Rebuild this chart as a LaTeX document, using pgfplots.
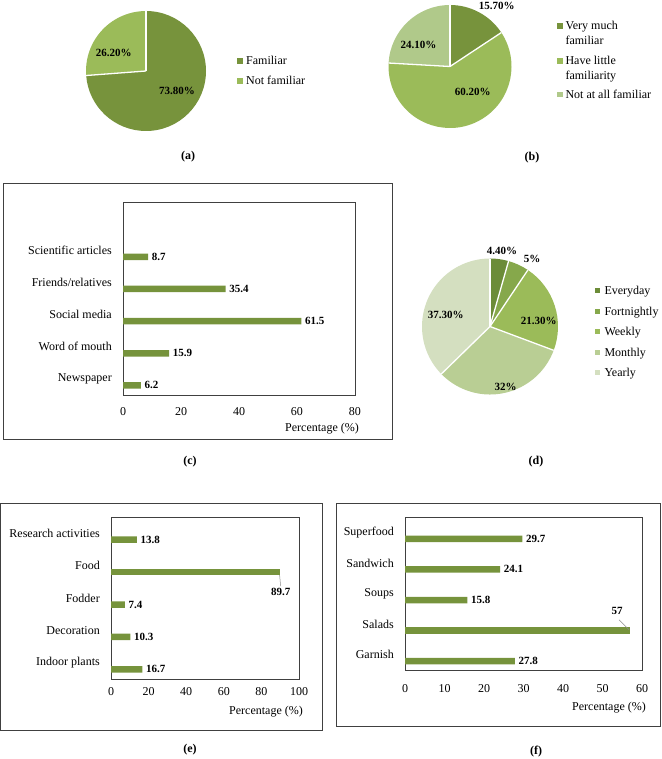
\documentclass[border=0pt]{standalone}
\usepackage{pgfplots}
\pgfplotsset{compat=1.18}
\usepackage{fontspec}
\setmainfont{Liberation Serif}

% palette
\definecolor{gA}{HTML}{77933C}
\definecolor{gB}{HTML}{9BBB59}
\definecolor{gC}{HTML}{B0C98A}
\definecolor{dA}{HTML}{6C8C38}
\definecolor{dB}{HTML}{86A84B}
\definecolor{dC}{HTML}{9BBB59}
\definecolor{dD}{HTML}{B9CE94}
\definecolor{dE}{HTML}{D4DFC0}
\definecolor{barc}{HTML}{76933C}
\definecolor{framec}{HTML}{404040}

\newcommand\ftxt{\fontsize{12}{14}\selectfont}
\newcommand\fval{\bfseries\fontsize{11}{13}\selectfont}

% pie drawn inside an axis: #1 radius, #2 list of value/colour, clockwise from 12 o'clock
\newcommand\drawpie[2]{%
  \gdef\piecum{0}%
  \foreach \v/\c in {#2}{%
    \pgfmathsetmacro\pa{90-3.6*\piecum}%
    \pgfmathsetmacro\pb{90-3.6*(\piecum+\v)}%
    \edef\piesector{\noexpand\fill[\c] (axis cs:0,0) -- ++(\pa:#1) arc[start angle=\pa, end angle=\pb, radius=#1] -- cycle;}%
    \piesector
    \pgfmathsetmacro\piesum{\piecum+\v}%
    \global\let\piecum\piesum
  }%
  \gdef\piecum{0}%
  \foreach \v/\c in {#2}{%
    \pgfmathsetmacro\pa{90-3.6*\piecum}%
    \edef\pieedge{\noexpand\draw[white, line width=1.3pt] (axis cs:0,0) -- ++(\pa:#1);}%
    \pieedge
    \pgfmathsetmacro\piesum{\piecum+\v}%
    \global\let\piecum\piesum
  }%
}

\pgfplotsset{
  pieaxis/.style={hide axis, scale only axis, clip=false,
    xmin=-1, xmax=1, ymin=-1, ymax=1, anchor=origin},
  baraxis/.style={scale only axis, anchor=south west,
    xbar, bar width=6.5pt, bar shift=-6.5pt,
    ymin=0.5, ytick={1,...,5},
    major tick length=0pt,
    axis line style={draw=framec, line width=0.8pt},
    tick label style={font=\ftxt},
    /pgf/number format/assume math mode=true,
    yticklabel style={xshift=-7.7pt},
    point meta=x},
  valuelabels/.style={nodes near coords,
    every node near coord/.style={anchor=west, xshift=3.5pt, yshift=-6.5pt, font=\fval, inner sep=0pt, text=black}},
}

\begin{document}
\begin{tikzpicture}
\path[use as bounding box] (0pt,0pt) rectangle (661pt,-759pt);

% ---------- (a) familiarity ----------
\begin{axis}[pieaxis, width=120pt, height=120pt, at={(146pt,-71pt)}]
\drawpie{60pt}{73.8/gA, 26.2/gB}
\end{axis}

% ---------- (b) degree of familiarity ----------
\begin{axis}[pieaxis, width=123pt, height=123pt, at={(450pt,-66.5pt)}]
\drawpie{61.5pt}{15.7/gA, 60.2/gB, 24.1/gC}
\end{axis}

% ---------- (d) frequency ----------
\begin{axis}[pieaxis, width=136pt, height=136pt, at={(490pt,-326.5pt)}]
\drawpie{68pt}{4.4/dA, 5/dB, 21.3/dC, 32/dD, 37.3/dE}
\end{axis}

% ---------- (c) source of information ----------
\begin{axis}[baraxis, at={(123pt,-395pt)}, width=232pt, height=193pt,
  xmin=0, xmax=80, ymax=6.5, xtick={0,20,...,80},
  xticklabel style={yshift=-8.6pt},
  yticklabels={Newspaper,Word of mouth,Social media,Friends/relatives,Scientific articles}]
\addplot[fill=barc, draw=none, valuelabels] coordinates {(6.2,1) (15.9,2) (61.5,3) (35.4,4) (8.7,5)};
\end{axis}

% ---------- (e) uses ----------
\begin{axis}[baraxis, at={(111pt,-679pt)}, width=188pt, height=162pt,
  xmin=0, xmax=100, ymax=5.5, xtick={0,20,...,100},
  xticklabel style={yshift=-4.6pt},
  yticklabels={Indoor plants,Decoration,Fodder,Food,Research activities}]
\addplot[fill=barc, draw=none, valuelabels] coordinates {(16.7,1) (10.3,2) (7.4,3) (13.8,5)};
\addplot[fill=barc, draw=none] coordinates {(89.7,4)};
\draw[black!45, line width=0.5pt] (axis cs:89.7,4) ++(0pt,-9.5pt) -- ++(1pt,-11pt);
\node[font=\fval, inner sep=0pt] at (axis cs:89.7,4) [xshift=1pt, yshift=-26pt] {\pgfmathprintnumber{89.7}};
\end{axis}

% ---------- (f) dishes ----------
\begin{axis}[baraxis, at={(405pt,-670pt)}, width=237pt, height=153pt,
  xmin=0, xmax=60, ymax=5.5, xtick={0,10,...,60},
  xticklabel style={yshift=-10.6pt},
  yticklabels={Garnish,Salads,Soups,Sandwich,Superfood}]
\addplot[fill=barc, draw=none, valuelabels] coordinates {(27.8,1) (15.8,3) (24.1,4) (29.7,5)};
\addplot[fill=barc, draw=none] coordinates {(57,2)};
\draw[black!45, line width=0.5pt] (axis cs:57,2) ++(-1pt,-5.7pt) -- ++(-10pt,10pt);
\node[font=\fval, inner sep=0pt] at (axis cs:57,2) [xshift=-13pt, yshift=12.7pt] {\pgfmathprintnumber{57}};
\end{axis}

\begin{scope}[x=1pt, y=1pt]
% chart frames
\draw[framec, line width=0.8pt] (3,-183) rectangle (392,-439);
\draw[framec, line width=0.8pt] (0.6,-503) rectangle (322,-730);
\draw[framec, line width=0.8pt] (336,-503) rectangle (660,-726);

% pie value labels
\begin{scope}[every node/.style={font=\fval, inner sep=0pt, anchor=base, yshift=-3.7pt}]
\node at (113.7,-53.3) {26.20\%};
\node at (177,-90.7) {73.80\%};
\node at (496.7,-6) {15.70\%};
\node at (418.5,-45) {24.10\%};
\node at (472.7,-91.7) {60.20\%};
\node at (502,-250.7) {4.40\%};
\node at (532,-258.3) {5\%};
\node at (538.8,-321) {21.30\%};
\node at (505.5,-386.7) {32\%};
\node at (445.8,-315) {37.30\%};
\end{scope}

% legends
\begin{scope}[every node/.style={font=\ftxt, inner sep=0pt, anchor=base west, yshift=-3.8pt}]
\fill[gA] (237.3,-63.7) rectangle ++(5.4,5.4);
\fill[gB] (237.3,-83.7) rectangle ++(5.4,5.4);
\node at (246,-61) {Familiar};
\node at (246,-81) {Not familiar};

\fill[gA] (557.3,-28.7) rectangle ++(5.4,5.4);
\fill[gB] (557.3,-63.7) rectangle ++(5.4,5.4);
\fill[gC] (557.3,-97) rectangle ++(5.4,5.4);
\node at (565.3,-26) {Very much};
\node at (565.3,-40.3) {familiar};
\node at (565.3,-61) {Have little};
\node at (565.3,-75.3) {familiarity};
\node at (565.3,-94.3) {Not at all familiar};

\fill[dA] (595,-293.4) rectangle ++(5.4,5.4);
\fill[dB] (595,-313.9) rectangle ++(5.4,5.4);
\fill[dC] (595,-334.4) rectangle ++(5.4,5.4);
\fill[dD] (595,-354.9) rectangle ++(5.4,5.4);
\fill[dE] (595,-375.4) rectangle ++(5.4,5.4);
\node at (604.3,-290.7) {Everyday};
\node at (604.3,-311.2) {Fortnightly};
\node at (604.3,-331.7) {Weekly};
\node at (604.3,-352.2) {Monthly};
\node at (604.3,-372.7) {Yearly};
\end{scope}

% axis titles
\begin{scope}[every node/.style={font=\ftxt, inner sep=0pt}]
\node at (322,-429) {Percentage (\%)};
\node at (266,-712) {Percentage (\%)};
\node at (609,-708) {Percentage (\%)};
\end{scope}

% panel letters
\begin{scope}[every node/.style={font=\bfseries\ftxt, inner sep=0pt}]
\node at (188,-157) {(a)};
\node at (532,-158) {(b)};
\node at (190,-462) {(c)};
\node at (536,-462) {(d)};
\node at (190,-750) {(e)};
\node at (536,-752) {(f)};
\end{scope}
\end{scope}
\end{tikzpicture}
\end{document}
